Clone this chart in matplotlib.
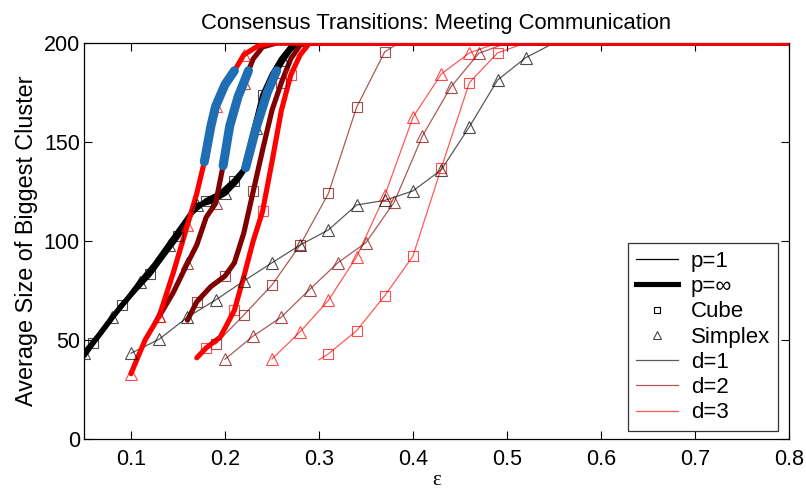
import matplotlib
matplotlib.use("Agg")
import matplotlib.pyplot as plt
from matplotlib.lines import Line2D

plt.rcParams["font.family"] = ["Liberation Sans", "DejaVu Sans"]

# --- p = infinity (thick curves) ---
# d = 1
INF_D1_CUBE_EPS = [0.05, 0.06, 0.075, 0.09, 0.105, 0.12, 0.135, 0.15, 0.165, 0.18, 0.195,
                   0.21, 0.22, 0.23, 0.24, 0.25, 0.26, 0.27, 0.28, 0.8]
INF_D1_CUBE_SIZE = [42, 48.6, 58, 67.5, 75.5, 83.3, 93, 102.5, 114.5, 120.4, 124,
                    130.5, 136, 155, 173.7, 184, 192, 198, 200, 200]
INF_D1_CUBE_MARKS = [1, 3, 5, 7, 9, 11, 14]

INF_D1_SIMPLEX_EPS = [0.05, 0.065, 0.08, 0.095, 0.11, 0.125, 0.14, 0.155, 0.17, 0.185, 0.20,
                      0.212, 0.222, 0.233, 0.245, 0.255, 0.262, 0.27, 0.28, 0.8]
INF_D1_SIMPLEX_SIZE = [43.3, 52, 61.5, 70, 79.5, 88, 98, 108, 118, 120, 124,
                       130, 137, 157, 175, 186, 191.4, 197, 200, 200]
INF_D1_SIMPLEX_MARKS = [0, 2, 4, 6, 8, 10, 13, 16]

# d = 2
INF_D2_CUBE_EPS = [0.16, 0.17, 0.185, 0.20, 0.21, 0.22, 0.23, 0.24, 0.25, 0.26, 0.27, 0.28, 0.29, 0.8]
INF_D2_CUBE_SIZE = [60, 69.3, 77, 82.3, 89, 104, 125, 146, 166, 180, 192, 199, 200, 200]
INF_D2_CUBE_MARKS = [1, 3, 6, 9]

INF_D2_SIMPLEX_EPS = [0.13, 0.145, 0.16, 0.17, 0.18, 0.19, 0.198, 0.205, 0.214, 0.22, 0.225,
                      0.23, 0.24, 0.255, 0.8]
INF_D2_SIMPLEX_SIZE = [62, 74, 88.7, 98, 112, 119, 138, 158, 173, 180, 186,
                       192, 198, 200, 200]
INF_D2_SIMPLEX_MARKS = [0, 2, 5, 9]

# d = 3
INF_D3_CUBE_EPS = [0.17, 0.18, 0.195, 0.21, 0.22, 0.23, 0.24, 0.25, 0.26, 0.27, 0.28, 0.29, 0.8]
INF_D3_CUBE_SIZE = [41, 46, 51.5, 65, 82, 100, 115, 140, 166, 183.8, 194, 200, 200]
INF_D3_CUBE_MARKS = [1, 3, 6, 9]

INF_D3_SIMPLEX_EPS = [0.10, 0.115, 0.13, 0.145, 0.16, 0.17, 0.178, 0.185, 0.19, 0.20, 0.21,
                      0.22, 0.235, 0.25, 0.8]
INF_D3_SIMPLEX_SIZE = [33, 50, 62, 84, 108, 124, 140, 158, 168, 179, 186,
                       194, 198.5, 200, 200]
INF_D3_SIMPLEX_MARKS = [0, 2, 4, 8, 11]

# --- p = 1 (thin curves) ---
P1_D1_SIMPLEX_EPS = [0.10, 0.13, 0.16, 0.19, 0.22, 0.25, 0.28, 0.31, 0.34, 0.37, 0.40,
                     0.43, 0.46, 0.49, 0.52, 0.55, 0.8]
P1_D1_SIMPLEX_SIZE = [43.3, 50.4, 61.5, 70.2, 79.8, 89, 98, 105.6, 118.2, 120.5, 125.3,
                      135.9, 157.7, 181.3, 192.6, 200, 200]
P1_D1_SIMPLEX_MARKS = list(range(15))

P1_D2_CUBE_EPS = [0.19, 0.22, 0.25, 0.28, 0.31, 0.34, 0.37, 0.385, 0.8]
P1_D2_CUBE_SIZE = [48, 62.6, 77.8, 98, 124, 167.5, 195.6, 200, 200]
P1_D2_CUBE_MARKS = list(range(7))

P1_D2_SIMPLEX_EPS = [0.20, 0.23, 0.26, 0.29, 0.32, 0.35, 0.38, 0.41, 0.44, 0.47, 0.50, 0.8]
P1_D2_SIMPLEX_SIZE = [40.3, 52, 61.6, 75.5, 89, 99.2, 119.6, 153, 177.6, 194.8, 200, 200]
P1_D2_SIMPLEX_MARKS = list(range(10))

P1_D3_CUBE_EPS = [0.30, 0.31, 0.34, 0.37, 0.40, 0.43, 0.46, 0.49, 0.52, 0.8]
P1_D3_CUBE_SIZE = [40, 43, 54.7, 72.4, 92.4, 136.7, 180, 195, 200, 200]
P1_D3_CUBE_MARKS = list(range(1, 8))

P1_D3_SIMPLEX_EPS = [0.25, 0.28, 0.31, 0.34, 0.37, 0.40, 0.43, 0.46, 0.49, 0.8]
P1_D3_SIMPLEX_SIZE = [40.4, 54.2, 70, 92, 123, 162.5, 184.3, 195, 200, 200]
P1_D3_SIMPLEX_MARKS = list(range(8))

# transition band highlighted on the thick simplex curves
BAND = (135, 187)

D_COLORS = {1: "black", 2: "#800000", 3: "#ff0000"}
HIGHLIGHT = "#1f6db3"

fig = plt.figure(figsize=(8.06, 4.93), dpi=100)
ax = fig.add_axes([0.1042, 0.1095, 0.8747, 0.8033])


def draw(eps, size, marks, d, thick, shape):
    color = D_COLORS[d]
    if thick:
        ax.plot(eps, size, color=color, lw=3.7, solid_capstyle="round", zorder=3)
    else:
        ax.plot(eps, size, color=color, lw=0.9, alpha=0.65, zorder=2)
    ax.plot([eps[i] for i in marks], [size[i] for i in marks], ls="none",
            marker="s" if shape == "cube" else "^",
            ms=7 if shape == "cube" else 8.5, mfc="none", mec=color,
            mew=0.8, alpha=0.7, zorder=4)


def highlight(eps, size):
    pts = [(e, s) for e, s in zip(eps, size) if BAND[0] <= s <= BAND[1]]
    ax.plot([p[0] for p in pts], [p[1] for p in pts], color=HIGHLIGHT, lw=6.5,
            solid_capstyle="round", zorder=5)


# thin curves
draw(P1_D1_SIMPLEX_EPS, P1_D1_SIMPLEX_SIZE, P1_D1_SIMPLEX_MARKS, 1, False, "simplex")
draw(P1_D2_CUBE_EPS, P1_D2_CUBE_SIZE, P1_D2_CUBE_MARKS, 2, False, "cube")
draw(P1_D2_SIMPLEX_EPS, P1_D2_SIMPLEX_SIZE, P1_D2_SIMPLEX_MARKS, 2, False, "simplex")
draw(P1_D3_CUBE_EPS, P1_D3_CUBE_SIZE, P1_D3_CUBE_MARKS, 3, False, "cube")
draw(P1_D3_SIMPLEX_EPS, P1_D3_SIMPLEX_SIZE, P1_D3_SIMPLEX_MARKS, 3, False, "simplex")

# thick curves
draw(INF_D1_CUBE_EPS, INF_D1_CUBE_SIZE, INF_D1_CUBE_MARKS, 1, True, "cube")
draw(INF_D1_SIMPLEX_EPS, INF_D1_SIMPLEX_SIZE, INF_D1_SIMPLEX_MARKS, 1, True, "simplex")
draw(INF_D2_CUBE_EPS, INF_D2_CUBE_SIZE, INF_D2_CUBE_MARKS, 2, True, "cube")
draw(INF_D2_SIMPLEX_EPS, INF_D2_SIMPLEX_SIZE, INF_D2_SIMPLEX_MARKS, 2, True, "simplex")
draw(INF_D3_CUBE_EPS, INF_D3_CUBE_SIZE, INF_D3_CUBE_MARKS, 3, True, "cube")
draw(INF_D3_SIMPLEX_EPS, INF_D3_SIMPLEX_SIZE, INF_D3_SIMPLEX_MARKS, 3, True, "simplex")

highlight(INF_D1_SIMPLEX_EPS, INF_D1_SIMPLEX_SIZE)
highlight(INF_D2_SIMPLEX_EPS, INF_D2_SIMPLEX_SIZE)
highlight(INF_D3_SIMPLEX_EPS, INF_D3_SIMPLEX_SIZE)

ax.set_xlim(0.05, 0.8)
ax.set_ylim(0, 200)
ax.set_xticks([0.1, 0.2, 0.3, 0.4, 0.5, 0.6, 0.7, 0.8])
ax.set_yticks([0, 50, 100, 150, 200])
ax.tick_params(direction="in", top=True, right=True, length=6, width=0.8, labelsize=15.5)
ax.tick_params(axis="x", pad=7)
ax.tick_params(axis="y", pad=3)
for sp in ax.spines.values():
    sp.set_linewidth(0.9)

ax.set_title("Consensus Transitions: Meeting Communication", fontsize=15.8, pad=10)
ax.set_ylabel("Average Size of Biggest Cluster", fontsize=16.8, labelpad=4)
ax.set_xlabel("ε", fontsize=15, family=["Liberation Serif", "DejaVu Serif"], labelpad=1)

handles = [
    Line2D([], [], color="black", lw=0.9),
    Line2D([], [], color="black", lw=3.7),
    Line2D([], [], ls="none", marker="s", ms=5, mfc="none", mec="black", mew=0.8),
    Line2D([], [], ls="none", marker="^", ms=6, mfc="none", mec="#444444", mew=0.8),
    Line2D([], [], color="black", lw=0.9, alpha=0.65),
    Line2D([], [], color="#800000", lw=0.9, alpha=0.65),
    Line2D([], [], color="#ff0000", lw=0.9, alpha=0.65),
]
labels = ["p=1", "p=∞", "Cube", "Simplex", "d=1", "d=2", "d=3"]
leg = ax.legend(handles, labels, loc="lower right", bbox_to_anchor=(0.984, 0.02),
                borderaxespad=0, fontsize=16, frameon=True, fancybox=False,
                handlelength=1.9, labelspacing=0.19, borderpad=0.35, handletextpad=0.55)
leg.get_frame().set_edgecolor("black")
leg.get_frame().set_linewidth(0.9)

fig.savefig("out.png", dpi=100)
